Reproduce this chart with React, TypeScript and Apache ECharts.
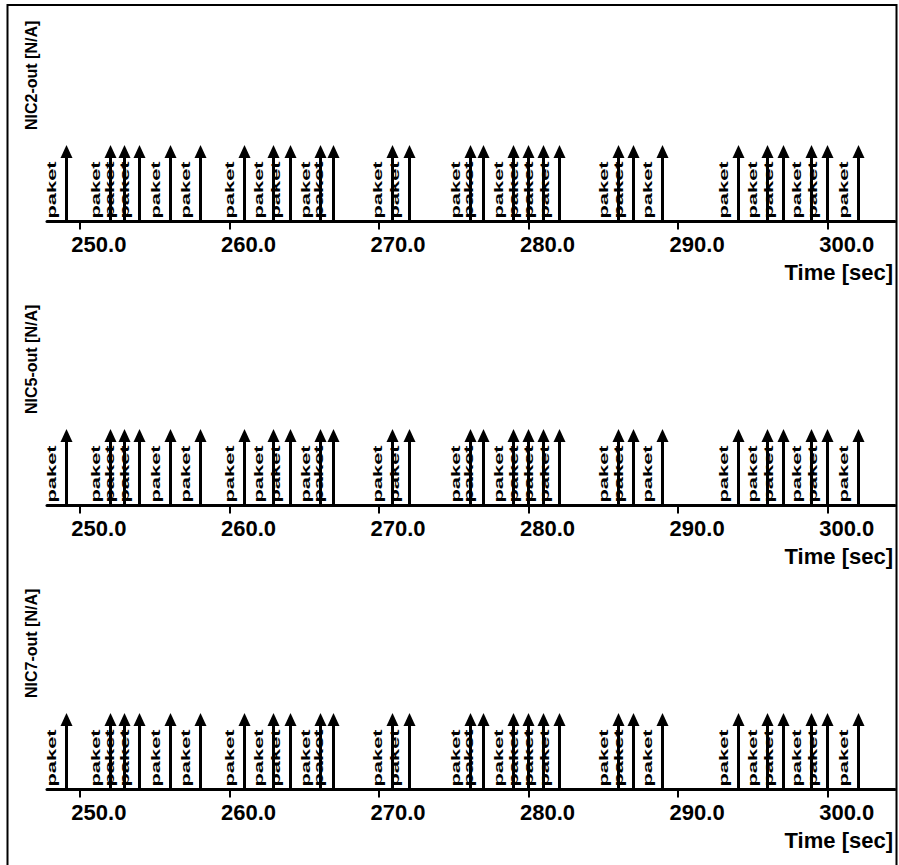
import React, { useEffect, useRef } from "react";
import * as echarts from "echarts";

// Event times (sec) of "paket" messages (identical in all three panels)
const PANEL_NAMES = ["NIC2-out [N/A]", "NIC5-out [N/A]", "NIC7-out [N/A]"];
const EVENT_TIMES = [
  249.06, 252.01, 252.96, 253.97, 256.02, 258.03, 260.99, 262.93, 264.05, 266.05,
  266.92, 270.9, 272.01, 276.09, 276.98, 278.98, 279.99, 280.99, 282.04, 285.99,
  287.01, 288.93, 293.98, 295.93, 296.99, 298.9, 299.95, 302.04,
];
const PANEL_EVENTS = [EVENT_TIMES, EVENT_TIMES, EVENT_TIMES];
const EVENT_LABEL = "paket";
const TICK_VALUES = [250, 260, 270, 280, 290, 300];
const X_MIN = 247.8;
const X_MAX = 304.5;
const X_NAME = "Time [sec]";

const FONT = '"Liberation Sans", Arial, sans-serif';

export default function App() {
  const ref = useRef<HTMLDivElement>(null);

  useEffect(() => {
    if (!ref.current) return;
    const chart = echarts.init(ref.current, undefined, { renderer: "svg" });

    const grids: any[] = [];
    const xAxes: any[] = [];
    const yAxes: any[] = [];
    const series: any[] = [];

    PANEL_NAMES.forEach((name, i) => {
      const top = 145 + 284 * i;
      grids.push({ left: 47, width: 848, top, height: 76.5 });
      xAxes.push({
        type: "value",
        gridIndex: i,
        min: X_MIN,
        max: X_MAX,
        name: X_NAME,
        nameLocation: "end",
        nameGap: -2,
        nameTextStyle: {
          color: "#000",
          fontFamily: FONT,
          fontWeight: "bold",
          fontSize: 22,
          align: "right",
          verticalAlign: "top",
          padding: [40, 0, 0, 0],
        },
        axisLine: { show: true, onZero: false, lineStyle: { color: "#000", width: 3 } },
        axisTick: {
          show: true,
          customValues: TICK_VALUES,
          length: 8,
          lineStyle: { color: "#000", width: 2 },
        },
        axisLabel: {
          show: true,
          customValues: TICK_VALUES,
          formatter: (v: number) => v.toFixed(1),
          color: "#000",
          fontFamily: FONT,
          fontWeight: "bold",
          fontSize: 22,
          margin: 12,
          align: "center",
          padding: [0, 0, 0, 38],
        },
        splitLine: { show: false },
      });
      yAxes.push({
        type: "value",
        gridIndex: i,
        min: 0,
        max: 1,
        offset: 15.5,
        name,
        nameLocation: "end",
        nameRotate: 90,
        nameGap: 15,
        nameTextStyle: {
          color: "#000",
          fontFamily: FONT,
          fontWeight: "bold",
          fontSize: 16,
        },
        axisLine: { show: false },
        axisTick: { show: false },
        axisLabel: { show: false },
        splitLine: { show: false },
      });
      series.push({
        type: "custom",
        xAxisIndex: i,
        yAxisIndex: i,
        data: PANEL_EVENTS[i].map((t) => [t, 1]),
        renderItem: (params: any, api: any) => {
          const t = api.value(0);
          const tip = api.coord([t, api.value(1)]);
          const base = api.coord([t, 0]);
          const x = Math.round(tip[0]) + 0.5;
          return {
            type: "group",
            children: [
              {
                type: "line",
                shape: { x1: x, y1: base[1], x2: x, y2: tip[1] + 8 },
                style: { stroke: "#000", lineWidth: 3 },
              },
              {
                type: "polygon",
                shape: {
                  points: [
                    [x, tip[1]],
                    [x - 6, tip[1] + 13],
                    [x + 6, tip[1] + 13],
                  ],
                },
                style: { fill: "#000" },
              },
              {
                type: "text",
                x: x - 15,
                y: base[1] - 3,
                rotation: Math.PI / 2,
                scaleX: 1.68,
                style: {
                  text: EVENT_LABEL,
                  fill: "#000",
                  font: `bold 13px ${FONT}`,
                  align: "left",
                  verticalAlign: "middle",
                },
              },
            ],
          };
        },
      });
    });

    chart.setOption({
      animation: false,
      backgroundColor: "#fff",
      grid: grids,
      xAxis: xAxes,
      yAxis: yAxes,
      series,
      graphic: [
        {
          type: "rect",
          shape: { x: 7.5, y: 5, width: 889, height: 900 },
          style: { fill: "none", stroke: "#000", lineWidth: 2 },
          silent: true,
        },
      ],
    });

    return () => chart.dispose();
  }, []);

  return (
    <div
      ref={ref}
      style={{ position: "fixed", left: 0, top: 0, width: 899, height: 865, background: "#fff" }}
    />
  );
}
